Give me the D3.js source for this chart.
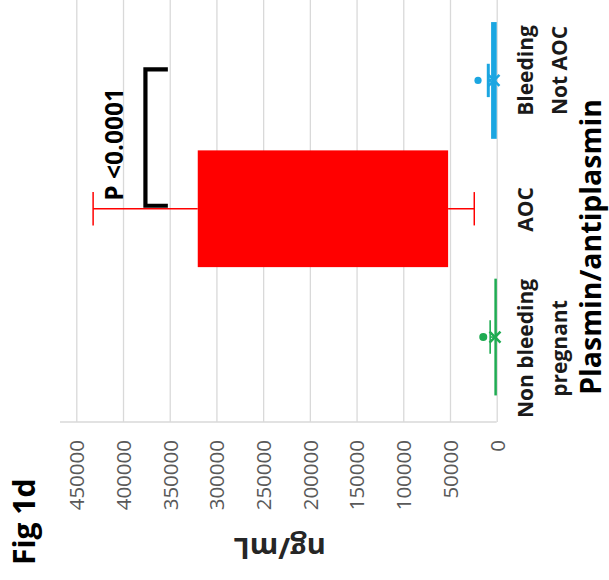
<!DOCTYPE html>
<html><head><meta charset="utf-8">
<script src="https://cdn.jsdelivr.net/npm/d3@7"></script>
<style>body{margin:0;background:#fff}svg{display:block}</style>
</head><body>
<svg id="c" width="609" height="580"></svg>
<script>
// ---- data ----
const categories = ["Non bleeding pregnant", "AOC", "Bleeding Not AOC"];
const labelLines = [["Non bleeding", "pregnant"], ["AOC"], ["Bleeding", "Not AOC"]];
const colors = ["#1fab52", "#ff0000", "#1ba6e1"];
const q1 = [0, 52000, 0];
const q3 = [2500, 320000, 6000];
const whiskerLow = [0, 24000, 0];
const whiskerHigh = [7000, 432000, 9000];
const means = [1800, null, 2900];
const outliers = [[14400], [], [20000]];
const tickValues = [0, 50000, 100000, 150000, 200000, 250000, 300000, 350000, 400000, 450000];
const bracket = {from: "AOC", to: "Bleeding Not AOC", value: 376000, tickTo: 352000, label: "P <0.0001"};
const yTitle = "ng/mL";
const xTitle = "Plasmin/antiplasmin";
const figLabel = "Fig 1d";

// ---- drawing ----
const svg = d3.select("#c");
svg.append("rect").attr("width", 609).attr("height", 580).attr("fill", "#fff");
const F = "'Open Sans', 'DejaVu Sans', sans-serif";

const x = d3.scaleLinear().domain([0, 450000]).range([496.7, 76.3]);
const yBox = d3.scalePoint().domain(categories).range([401.2, 16.3]).padding(0.5);
const yLab = d3.scalePoint().domain(categories).range([418, 1]).padding(0.5);
const step = yBox.step();
const boxW = step * 0.91;
const capL = step * 0.26;
const axisY = 422;
const lineW = [1.6, 1.5, 3];

// gridlines + tick labels via d3 axis
const ax = svg.append("g").attr("transform", `translate(0,${axisY})`)
  .call(d3.axisBottom(x).tickValues(tickValues).tickSize(-axisY).tickFormat(d3.format("d")));
ax.select(".domain").remove();
ax.selectAll(".tick line").attr("stroke", "#d9d9d9").attr("stroke-width", 1.3);
ax.selectAll(".tick text")
  .attr("transform", "translate(0,18) rotate(-90)")
  .attr("x", 0).attr("y", 0).attr("dy", "0.36em")
  .attr("text-anchor", "end")
  .attr("fill", "#595959")
  .style("font-family", F).style("font-size", "20.5px");
// value axis baseline
svg.append("line").attr("x1", 60).attr("x2", x(0)).attr("y1", axisY).attr("y2", axisY)
  .attr("stroke", "#d9d9d9").attr("stroke-width", 1.3);

// boxes & whiskers
categories.forEach((c, i) => {
  const cy = yBox(c), col = colors[i];
  const g = svg.append("g");
  [[q1[i], whiskerLow[i]], [q3[i], whiskerHigh[i]]].forEach(([a, b]) => {
    if (a === b) return;
    g.append("line").attr("x1", x(a)).attr("x2", x(b)).attr("y1", cy).attr("y2", cy)
      .attr("stroke", col).attr("stroke-width", lineW[i]);
    g.append("line").attr("x1", x(b)).attr("x2", x(b)).attr("y1", cy - capL / 2).attr("y2", cy + capL / 2)
      .attr("stroke", col).attr("stroke-width", lineW[i]);
  });
  g.append("rect").attr("x", x(q3[i])).attr("width", Math.max(2.5, x(q1[i]) - x(q3[i])))
    .attr("y", cy - boxW / 2).attr("height", boxW).attr("fill", col);
  outliers[i].forEach(v => g.append("circle").attr("cx", x(v)).attr("cy", cy).attr("r", i === 0 ? 4 : 3.6).attr("fill", col));
  if (means[i] != null) {
    g.append("path").attr("d", d3.symbol(d3.symbolX, 80)())
      .attr("transform", `translate(${x(means[i])},${cy})`)
      .attr("fill", "none").attr("stroke", col).attr("stroke-width", 2.5);
  }
});

// significance bracket
const yb1 = yBox(bracket.from) - 3, yb2 = yBox(bracket.to) - 11;
svg.append("path")
  .attr("d", `M${x(bracket.tickTo)},${yb1}H${x(bracket.value)}V${yb2}H${x(bracket.tickTo)}`)
  .attr("fill", "none").attr("stroke", "#000").attr("stroke-width", 4.2);
svg.append("text").text(bracket.label)
  .attr("transform", `translate(123,${yb1 - 5}) rotate(-90)`)
  .attr("text-anchor", "start")
  .style("font-family", F).style("font-weight", 700).style("font-size", "24.5px").attr("fill", "#000");

// category labels
categories.forEach((c, i) => {
  const lines = labelLines[i];
  const t = svg.append("text")
    .attr("transform", `translate(533,${yLab(c)}) rotate(-90)`)
    .attr("text-anchor", "middle")
    .style("font-family", F).style("font-weight", 700).style("font-size", "21px").attr("fill", "#1a1a1a");
  lines.forEach((l, k) => t.append("tspan").attr("x", 0).attr("y", k * 33.5).text(l));
});

// axis titles
svg.append("text").text(xTitle)
  .attr("transform", `translate(601,247) rotate(-90)`)
  .attr("text-anchor", "middle")
  .style("font-family", F).style("font-weight", 700).style("font-size", "28.5px").attr("fill", "#000");
svg.append("text").text(yTitle)
  .attr("transform", `translate(${(x.range()[0] + x.range()[1]) / 2 - 7},548) rotate(180)`)
  .attr("text-anchor", "middle").attr("dy", "0.35em")
  .style("font-family", F).style("font-weight", 700).style("font-size", "29px").attr("fill", "#262626");
svg.append("text").text(figLabel)
  .attr("transform", `translate(35,565) rotate(-90)`)
  .attr("text-anchor", "start")
  .style("font-family", F).style("font-weight", 700).style("font-size", "30px").attr("fill", "#000");
</script>
</body></html>
